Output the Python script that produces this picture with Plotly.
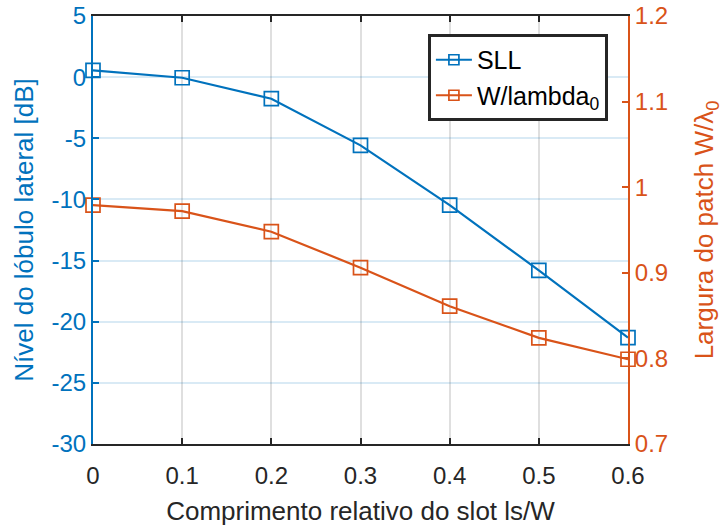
import plotly.graph_objects as go

# Relative slot length ls/W
slot_ratio = [0.0, 0.1, 0.2, 0.3, 0.4, 0.5, 0.6]
# Side-lobe level [dB]
sll_db = [0.55, -0.05, -1.76, -5.58, -10.47, -15.8, -21.3]
# Patch width normalised to free-space wavelength
w_lambda = [0.979, 0.972, 0.948, 0.906, 0.861, 0.824, 0.799]

x_ticks = [0, 0.1, 0.2, 0.3, 0.4, 0.5, 0.6]
x_labels = ["0", "0.1", "0.2", "0.3", "0.4", "0.5", "0.6"]
y_left_ticks = [5, 0, -5, -10, -15, -20, -25, -30]
y_left_labels = ["5", "0", "-5", "-10", "-15", "-20", "-25", "-30"]
y_right_ticks = [0.7, 0.8, 0.9, 1.0, 1.1, 1.2]
y_right_labels = ["0.7", "0.8", "0.9", "1", "1.1", "1.2"]

BLUE = "#0072BD"
ORANGE = "#D95319"
DARK = "#262626"
FONT = "Liberation Sans, Arial, sans-serif"
TICK_FS = 24
TITLE_FS = 26

fig = go.Figure()

fig.add_trace(go.Scatter(
    x=slot_ratio, y=sll_db, name="SLL", showlegend=False,
    mode="lines+markers",
    line=dict(color=BLUE, width=2.2),
    marker=dict(symbol="square-open", size=14, color=BLUE, line=dict(width=1.7)),
    cliponaxis=False,
))
fig.add_trace(go.Scatter(
    x=slot_ratio, y=w_lambda, name="W/lambda<sub>0</sub>", showlegend=False,
    mode="lines+markers", yaxis="y2",
    line=dict(color=ORANGE, width=2.2),
    marker=dict(symbol="square-open", size=14, color=ORANGE, line=dict(width=1.7)),
    cliponaxis=False,
))

# legend entries with smaller marker glyphs
for name, color, ax in [("SLL", BLUE, "y"), ("W/lambda<sub>0</sub>", ORANGE, "y2")]:
    fig.add_trace(go.Scatter(
        x=[None], y=[None], name=name, yaxis=ax,
        mode="lines+markers",
        line=dict(color=color, width=2.2),
        marker=dict(symbol="square-open", size=10, color=color, line=dict(width=1.7)),
    ))

fig.update_layout(
    width=724, height=526,
    margin=dict(l=93, r=96, t=16, b=82),
    paper_bgcolor="white", plot_bgcolor="white",
    font=dict(family=FONT, size=TICK_FS, color=DARK),
    showlegend=True,
    legend=dict(
        x=0.626, y=0.958, xanchor="left", yanchor="top",
        bgcolor="white", bordercolor=DARK, borderwidth=3,
        font=dict(size=25, color="black"),
        tracegroupgap=0, itemwidth=36,
    ),
    xaxis=dict(
        range=[0, 0.6], tickvals=x_ticks, ticktext=x_labels,
        ticks="inside", ticklen=6, tickwidth=1.5, tickcolor=DARK,
        showline=True, linecolor=DARK, linewidth=2, mirror="ticks",
        showgrid=True, gridcolor="rgba(38,38,38,0.15)", gridwidth=1.5,
        zeroline=False, automargin=False, ticklabelstandoff=9,
        tickfont=dict(size=TICK_FS, color=DARK),
        title=dict(text="Comprimento relativo do slot ls/W",
                   font=dict(size=TITLE_FS, color=DARK), standoff=14),
    ),
    yaxis=dict(
        range=[-30, 5], tickvals=y_left_ticks, ticktext=y_left_labels,
        ticks="inside", ticklen=6, tickwidth=1.5, tickcolor=BLUE,
        showline=True, linecolor=BLUE, linewidth=2,
        showgrid=True, gridcolor="rgba(0,114,189,0.15)", gridwidth=1.5,
        zeroline=False, automargin=False,
        tickfont=dict(size=TICK_FS, color=BLUE),
        title=dict(text="Nível do lóbulo lateral [dB]",
                   font=dict(size=TITLE_FS, color=BLUE), standoff=10),
    ),
    yaxis2=dict(
        range=[0.7, 1.2], tickvals=y_right_ticks, ticktext=y_right_labels,
        overlaying="y", side="right",
        ticks="inside", ticklen=6, tickwidth=1.5, tickcolor=ORANGE,
        showline=True, linecolor=ORANGE, linewidth=2,
        showgrid=False, zeroline=False, automargin=False,
        tickfont=dict(size=TICK_FS, color=ORANGE),
        title=dict(text="Largura do patch W/λ<sub>0</sub>",
                   font=dict(size=TITLE_FS, color=ORANGE), standoff=28),
    ),
)

fig.write_html("out.html")
